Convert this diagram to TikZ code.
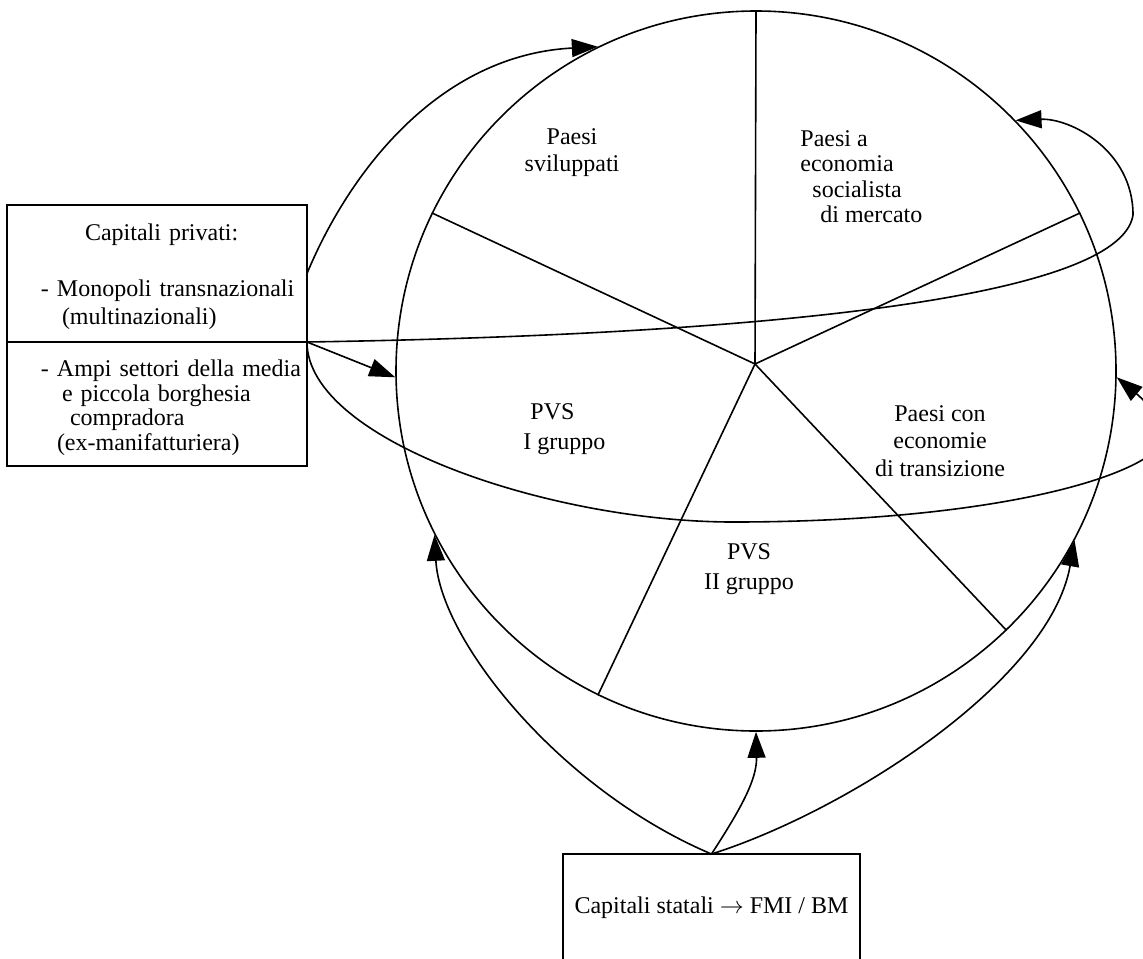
\documentclass[tikz,border=0pt]{standalone}
\usepackage{fontspec}
\setmainfont{Liberation Serif}
\usetikzlibrary{arrows.meta,positioning}
\tikzset{
  box/.style={
    draw, line width=0.8pt, outer sep=0pt, inner xsep=0pt,
    minimum width=150pt, font=\fontsize{12}{14}\selectfont
  },
  lbl/.style={inner sep=0pt, font=\fontsize{12}{14}\selectfont},
  spoke/.style={line width=0.8pt},
  link/.style={-{Triangle[length=13pt,width=9pt]}, line width=0.8pt}
}

\begin{document}
\begin{tikzpicture}[x=0.5pt,y=-0.5pt]
    \useasboundingbox (0,0) rectangle (1143,958);
    % the world and its five groups of countries
    \node[circle,draw,line width=0.8pt,minimum size=360pt,inner sep=0pt] (world) at (756,371) {};
    \coordinate (hub) at (755,364);
    \draw[spoke] (hub)--(world.90);
    \draw[spoke] (hub)--(world.154);
    \draw[spoke] (hub)--(world.26);
    \draw[spoke] (hub)--(world.-46);
    \draw[spoke] (hub)--(world.-116);
    \node[lbl,anchor=north,align=center,font=\fontsize{12}{13.5}\selectfont] (dev) at (572,128) {Paesi\\sviluppati};
    \node[lbl,anchor=north west,align=left,font=\fontsize{12}{12.7}\selectfont] (soc) at (800,130)
      {Paesi a\\economia\\\hspace*{6pt}socialista\\\hspace*{10pt}di mercato};
    \node[lbl,anchor=north west,align=left,font=\fontsize{12}{15}\selectfont] (pvsa) at (523,403) {\hspace*{3.5pt}PVS\\I gruppo};
    \node[lbl,anchor=north,align=center,font=\fontsize{12}{13.75}\selectfont] (trans) at (940,405)
      {Paesi con\\economie\\di transizione};
    \node[lbl,anchor=north,align=center,font=\fontsize{12}{15}\selectfont] (pvsb) at (749,543) {PVS\\II gruppo};
    % sources of capital
    \node[box,minimum height=68.5pt,text width=150pt,align=left] (priv) at (157,273.5)
      {\rule{0pt}{12pt}\hspace*{39pt}Capitali privati:\\[14pt]
       \hspace*{17pt}\mbox{- Monopoli transnazionali}\\
       \hspace*{27.5pt}(multinazionali)};
    \node[box,minimum height=62pt,text width=150pt,align=left,font=\fontsize{12}{12.2}\selectfont,below=0pt of priv] (borg)
      {\rule{0pt}{12pt}\hspace*{17pt}\mbox{- Ampi settori della media}\\
       \hspace*{27.5pt}\mbox{e piccola borghesia}\\
       \hspace*{31.5pt}compradora\\
       \hspace*{25pt}(ex-manifatturiera)};
    \node[box,minimum width=148.5pt,minimum height=54pt] (stat) at (711.5,908)
      {Capitali statali $\rightarrow$ FMI / BM};
    % flows
    \draw[link] (priv.east) .. controls (350,170) and (440,55) .. (world.116);
    \draw[link] (priv.south east) -- (world.181);
    \draw[link] (priv.south east) .. controls (750,335) and (1120,300) .. (1133,215)
      .. controls (1133,150) and (1070,118) .. (world.44);
    \draw[link] (priv.south east) .. controls (307,440) and (550,522) .. (733,522)
      .. controls (950,522) and (1100,490) .. (1150,455)
      .. controls (1175,435) and (1150,405) .. (world.-1);
    \draw[link] (stat.north) .. controls (560,790) and (440,640) .. (world.207);
    \draw[link] (stat.north) .. controls (740,810) and (757,780) .. (world.270);
    \draw[link] (stat.north) .. controls (850,810) and (1050,680) .. (world.-28);
  \end{tikzpicture}
\end{document}
